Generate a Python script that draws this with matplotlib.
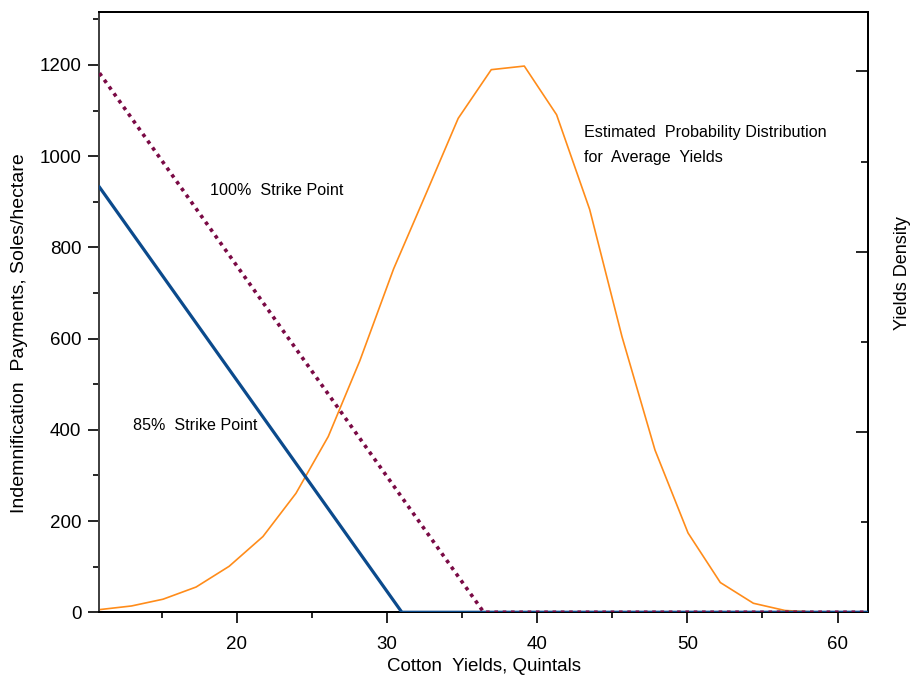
import matplotlib
matplotlib.use("Agg")
import matplotlib.pyplot as plt
from matplotlib.ticker import MultipleLocator, NullFormatter

plt.rcParams["font.family"] = ["Liberation Sans", "DejaVu Sans"]

# payment lines (yield, soles/hectare)
strike85_x = [10.87, 31.0, 62.0]
strike85_y = [932, 0, 0]
strike100_x = [10.87, 36.45, 62.0]
strike100_y = [1182, 0, 0]

# estimated yield density
dens_x = [10.9, 13.0, 15.1, 17.3, 19.5, 21.75, 23.95, 26.1, 28.2, 30.45, 32.65,
          34.75, 36.95, 39.15, 41.3, 43.5, 45.65, 47.85, 50.05, 52.2, 54.4,
          56.5, 58.7, 60.9, 62.0]
dens_y = [0.0003, 0.0007, 0.00145, 0.0028, 0.0051, 0.0084, 0.0132, 0.0195,
          0.0279, 0.0381, 0.0466, 0.0548, 0.0602, 0.0606, 0.0552, 0.0447,
          0.0306, 0.0180, 0.0088, 0.0033, 0.0010, 0.0002, 0.0000, 0.0000, 0.0]

fig = plt.figure(figsize=(9.11, 6.77), dpi=100)
ax = fig.add_axes([0.1092, 0.0956, 0.8431, 0.8867])
ax2 = ax.twinx()

ax2.plot(dens_x, dens_y, color="#ff8c1a", lw=1.2, zorder=2)
ax.plot(strike85_x, strike85_y, color="#0b4a8c", lw=2.3, zorder=3)
ax.plot(strike100_x, strike100_y, color="#7a0a45", lw=2.6,
        linestyle=(0, (1.0, 1.3)), zorder=4)
ax.set_zorder(ax2.get_zorder() + 1)
ax.patch.set_visible(False)

ax.set_xlim(10.87, 62.0)
ax.set_ylim(0, 1316)
ax2.set_ylim(0, 0.0666)

ax.xaxis.set_major_locator(MultipleLocator(10))
ax.xaxis.set_minor_locator(MultipleLocator(5))
ax.yaxis.set_major_locator(MultipleLocator(200))
ax.yaxis.set_minor_locator(MultipleLocator(100))
ax2.yaxis.set_major_locator(MultipleLocator(0.02))
ax2.yaxis.set_minor_locator(MultipleLocator(0.01))
ax2.yaxis.set_major_formatter(NullFormatter())

ax.tick_params(axis="both", which="major", length=8, width=1.2, labelsize=13.5, direction="out")
ax.tick_params(axis="y", which="major", pad=5)
ax.tick_params(axis="x", which="major", pad=9)
ax.tick_params(axis="both", which="minor", length=4, width=1.2, direction="out")
ax2.tick_params(axis="y", which="major", length=9, width=1.2, direction="in")
ax2.tick_params(axis="y", which="minor", length=5, width=1.2, direction="in")

for a in (ax, ax2):
    for s in a.spines.values():
        s.set_linewidth(1.4)
        s.set_color("black")
ax.spines["left"].set_color("#444444")

ax.set_xlabel("Cotton  Yields, Quintals", fontsize=13.5, labelpad=3.5)
ax.set_ylabel("Indemnification  Payments, Soles/hectare", fontsize=14)
ax.yaxis.set_label_coords(-0.093, 0.465)
ax2.set_ylabel("Yields Density", fontsize=13)
ax2.yaxis.set_label_coords(1.034, 0.565)

ax.text(18.2, 925, "100%  Strike Point", fontsize=11.6, va="center")
ax.text(13.1, 410, "85%  Strike Point", fontsize=11.6, va="center")
ax.text(43.1, 1051, "Estimated  Probability Distribution", fontsize=11.6, va="center")
ax.text(43.1, 996, "for  Average  Yields", fontsize=11.6, va="center")

fig.savefig("out.png", dpi=100)
